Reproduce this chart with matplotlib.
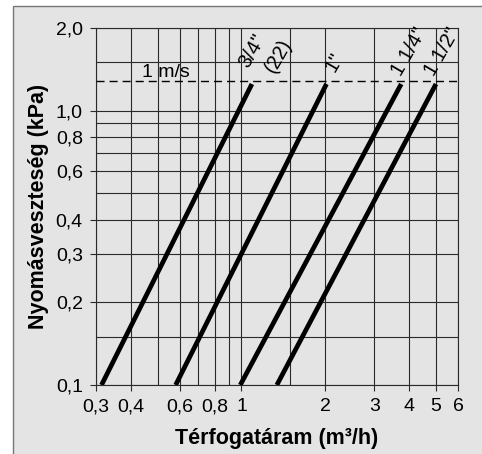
import numpy as np
import matplotlib
matplotlib.use('Agg')
import matplotlib.pyplot as plt
from matplotlib.patches import Rectangle

plt.rcParams['font.family'] = ['Liberation Sans', 'DejaVu Sans']

# pipe sizes and their curves (flow m3/h, pressure drop kPa) - start and end points
pipes = ['3/4"', '1"', '1 1/4"', '1 1/2"']
flow_lo = [0.314, 0.58, 0.99, 1.34]
flow_hi = [1.09, 2.02, 3.75, 5.0]
dp_lo = [0.1, 0.1, 0.1, 0.1]
dp_hi = [1.25, 1.25, 1.25, 1.25]

v1_dp = 1.28  # 1 m/s line

xticks = [0.3, 0.4, 0.6, 0.8, 1, 2, 3, 4, 5, 6]
xlabels = ['0,3', '0,4', '0,6', '0,8', '1', '2', '3', '4', '5', '6']
yticks = [0.1, 0.2, 0.3, 0.4, 0.6, 0.8, 1.0, 2.0]
ylabels = ['0,1', '0,2', '0,3', '0,4', '0,6', '0,8', '1,0', '2,0']
xgrid = [0.3, 0.4, 0.5, 0.6, 0.7, 0.8, 0.9, 1, 1.5, 2, 3, 4, 5, 6]
ygrid = [0.1, 0.15, 0.2, 0.3, 0.4, 0.5, 0.6, 0.7, 0.8, 0.9, 1.0, 1.5, 2.0]

bg = '#e4e4e4'

fig = plt.figure(figsize=(4.82, 4.54), dpi=100)
fig.patch.set_facecolor('white')
frame = Rectangle((13/482, -0.1), 1.2, 1.1 - 6/454, transform=fig.transFigure,
                  facecolor=bg, edgecolor='#777777', lw=1.0, zorder=-10)
fig.patches.append(frame)

ax = fig.add_axes([96/482, 1 - 385/454, 362/482, 357/454])
ax.set_zorder(5)
ax.set_facecolor(bg)
ax.set_xscale('log')
ax.set_yscale('log')
ax.set_xlim(0.3, 6)
ax.set_ylim(0.1, 2.0)

for xv in xgrid:
    ax.axvline(xv, color='#2a2a2a', lw=0.8, zorder=1)
for yv in ygrid:
    ax.axhline(yv, color='#2a2a2a', lw=0.8, zorder=1)

ax.axhline(v1_dp, color='black', lw=1.0, dashes=(5.8, 3.6), zorder=2)
ax.annotate('1 m/s', xy=(0.44, v1_dp), xytext=(0, 3), textcoords='offset points',
            fontsize=14, ha='left', va='baseline')

for i in range(len(pipes)):
    ax.plot([flow_lo[i], flow_hi[i]], [dp_lo[i], dp_hi[i]], color='black', lw=3.4,
            solid_capstyle='butt', zorder=3)

# labels at the top ends of the lines
offs = [(-3, 11), (6, 8), (0, 5), (-1.5, 5)]
for i in range(len(pipes)):
    ax.annotate(pipes[i], xy=(flow_hi[i], dp_hi[i]), xytext=offs[i], textcoords='offset points',
                rotation=60, rotation_mode='anchor', ha='left', va='baseline', fontsize=14.5)
ax.annotate('(22)', xy=(flow_hi[0], dp_hi[0]), xytext=(16, 7), textcoords='offset points',
            rotation=60, rotation_mode='anchor', ha='left', va='baseline', fontsize=14.5)

ax.set_xticks(xticks)
ax.set_xticklabels(xlabels)
ax.set_yticks(yticks)
ax.set_yticklabels(ylabels)
ax.xaxis.set_minor_locator(matplotlib.ticker.NullLocator())
ax.yaxis.set_minor_locator(matplotlib.ticker.NullLocator())
ax.tick_params(axis='both', labelsize=14, length=4, width=0.8, color='#2a2a2a', pad=5.5)

for s in ax.spines.values():
    s.set_color('#2a2a2a')
    s.set_linewidth(0.8)

ax.set_xlabel('Térfogatáram (m³/h)', fontsize=15.5, fontweight='bold', labelpad=9)
ax.set_ylabel('Nyomásveszteség (kPa)', fontsize=15.5, fontweight='bold', labelpad=5)

fig.savefig('out.png', dpi=100)
